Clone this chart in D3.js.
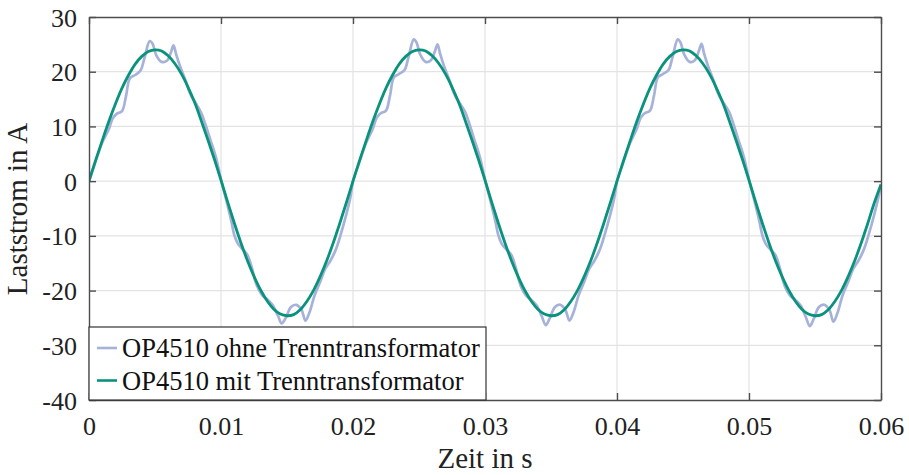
<!DOCTYPE html>
<html><head><meta charset="utf-8">
<script src="https://cdn.jsdelivr.net/npm/d3@7"></script>
<style>body{margin:0;background:#fff}svg{display:block}</style>
</head><body><svg id="c" width="909" height="475"></svg>
<script>
const xTicks = [0,0.01,0.02,0.03,0.04,0.05,0.06];
const xTickLabels = ["0","0.01","0.02","0.03","0.04","0.05","0.06"];
const yTicks = [-40,-30,-20,-10,0,10,20,30];
const yTickLabels = ["-40","-30","-20","-10","0","10","20","30"];
const seriesNames = ["OP4510 ohne Trenntransformator","OP4510 mit Trenntransformator"];

// green series: sampled every 0.0005 s
const greenT = d3.range(0,121).map(i=>+(i*0.0005).toFixed(4));
const greenV = [
 0,3.8,7.4,10.9,14.1,17.0,19.4,21.4,22.8,23.7,24.0,23.8,22.9,21.5,19.6,17.2,14.4,11.1,7.6,4.0,
 0.2,-3.8,-7.6,-11.2,-14.5,-17.4,-19.9,-21.9,-23.4,-24.3,-24.6,-24.4,-23.5,-22.0,-20.0,-17.5,-14.6,-11.3,-7.7,-3.9,
 0,3.8,7.4,10.9,14.1,17.0,19.4,21.4,22.8,23.7,24.0,23.8,22.9,21.5,19.6,17.2,14.4,11.1,7.6,4.0,
 0.2,-3.8,-7.6,-11.2,-14.5,-17.4,-19.9,-21.9,-23.4,-24.3,-24.6,-24.4,-23.5,-22.0,-20.0,-17.5,-14.6,-11.3,-7.7,-3.9,
 0,3.8,7.4,10.9,14.1,17.0,19.4,21.4,22.8,23.7,24.0,23.8,22.9,21.5,19.6,17.2,14.4,11.1,7.6,4.0,
 0.2,-3.8,-7.6,-11.2,-14.5,-17.4,-19.9,-21.9,-23.4,-24.3,-24.6,-24.4,-23.5,-22.0,-20.0,-17.5,-14.6,-11.3,-7.7,-3.9,
 -0.6
];

// blue series: read vertices
const blueT = [
 0,0.0005,0.001,0.0015,0.0018,0.0021,0.0025,0.0028,0.0031,0.0035,0.0039,0.0042,0.0046,0.0048,0.0051,0.0055,0.0059,0.0062,0.0064,0.0066,0.0069,0.0073,0.0077,0.0081,0.0085,0.0088,0.0092,0.0096,
 0.0100,0.0104,0.0108,0.0110,0.0113,0.0117,0.0120,0.0123,0.0127,0.0131,0.0135,0.0139,0.0143,0.0146,0.0149,0.0153,0.0157,0.0161,0.0164,0.0167,0.0171,0.0175,0.0179,0.0183,0.0187,0.0191,0.0195,0.0198,
 0.0200,0.0205,0.0210,0.0215,0.0218,0.0221,0.0225,0.0228,0.0231,0.0235,0.0239,0.0242,0.0246,0.0248,0.0251,0.0255,0.0259,0.0262,0.0264,0.0266,0.0269,0.0273,0.0277,0.0281,0.0285,0.0288,0.0292,0.0296,
 0.0300,0.0304,0.0308,0.0310,0.0313,0.0317,0.0320,0.0323,0.0327,0.0331,0.0335,0.0339,0.0343,0.0346,0.0349,0.0353,0.0357,0.0361,0.0364,0.0367,0.0371,0.0375,0.0379,0.0383,0.0387,0.0391,0.0395,0.0398,
 0.0400,0.0405,0.0410,0.0415,0.0418,0.0421,0.0425,0.0428,0.0431,0.0435,0.0439,0.0442,0.0446,0.0448,0.0451,0.0455,0.0459,0.0462,0.0464,0.0466,0.0469,0.0473,0.0477,0.0481,0.0485,0.0488,0.0492,0.0496,
 0.0500,0.0504,0.0508,0.0510,0.0513,0.0517,0.0520,0.0523,0.0527,0.0531,0.0535,0.0539,0.0543,0.0546,0.0549,0.0553,0.0557,0.0561,0.0564,0.0567,0.0571,0.0575,0.0579,0.0583,0.0587,0.0591,0.0595,0.0598,
 0.0600
];
const blueV = [
 0,3.6,7.0,9.5,11.5,12.3,12.8,15.5,18.8,19.4,20.2,22.5,25.6,25.2,23.0,21.8,22.0,23.5,24.8,23.2,21.0,18.5,15.8,14.2,12.5,10.5,7.5,4.5,
 0.3,-3.5,-7.5,-9.8,-11.5,-12.6,-13.5,-15.5,-19.0,-20.8,-21.6,-22.6,-24.5,-26.0,-25.0,-23.0,-22.6,-23.5,-25.5,-24.0,-20.8,-18.5,-16.0,-14.5,-12.5,-9.5,-6.0,-3.0,
 0,3.6,7.0,9.6,11.6,12.4,12.9,15.6,19.0,19.6,20.3,22.6,25.9,25.4,23.1,21.8,22.1,23.7,25.0,23.3,21.0,18.5,15.8,14.2,12.6,10.6,7.5,4.5,
 0.3,-3.5,-7.5,-9.8,-11.6,-12.7,-13.5,-15.6,-19.1,-20.9,-21.7,-22.7,-24.7,-26.3,-25.1,-23.0,-22.6,-23.6,-25.5,-24.0,-20.8,-18.5,-16.0,-14.5,-12.5,-9.5,-6.0,-3.0,
 0,3.6,7.0,9.6,11.6,12.4,12.9,15.6,19.0,19.6,20.3,22.6,25.9,25.4,23.1,21.8,22.1,23.8,25.1,23.3,21.0,18.5,15.8,14.2,12.6,10.6,7.5,4.5,
 0.3,-3.5,-7.5,-9.8,-11.6,-12.7,-13.5,-15.6,-19.1,-20.9,-21.7,-22.7,-24.8,-26.5,-25.2,-23.0,-22.6,-23.6,-25.7,-24.1,-20.8,-18.5,-16.0,-14.5,-12.5,-9.5,-6.0,-3.0,
 -0.6
];

const FONT = "'Liberation Serif', Tinos, 'Times New Roman', 'Noto Serif', 'DejaVu Serif', serif";
const W=909,H=475, L=89, R=881, T=17, B=400;
const svg=d3.select("#c");
const x=d3.scaleLinear().domain([0,0.06]).range([L,R]);
const y=d3.scaleLinear().domain([-40,30]).range([B,T]);

// grid
const g=svg.append("g");
g.selectAll(".vg").data(xTicks.slice(1,-1)).enter().append("line")
 .attr("x1",d=>x(d)).attr("x2",d=>x(d)).attr("y1",T).attr("y2",B).attr("stroke","#e3e3e3").attr("stroke-width",1.2);
g.selectAll(".hg").data(yTicks.slice(1,-1)).enter().append("line")
 .attr("y1",d=>y(d)).attr("y2",d=>y(d)).attr("x1",L).attr("x2",R).attr("stroke","#e3e3e3").attr("stroke-width",1.2);

// lines
svg.append("clipPath").attr("id","cp").append("rect").attr("x",L).attr("y",T).attr("width",R-L).attr("height",B-T);
const blue=blueT.map((t,i)=>[t,blueV[i]]);
const green=greenT.map((t,i)=>[t,greenV[i]]);
const line=d3.line().x(d=>x(d[0])).y(d=>y(d[1])).curve(d3.curveCatmullRom.alpha(0.5));
svg.append("path").datum(blue).attr("d",line).attr("fill","none").attr("stroke","#a6b2da").attr("stroke-width",2.7).attr("clip-path","url(#cp)");
svg.append("path").datum(green).attr("d",line).attr("fill","none").attr("stroke","#0a937c").attr("stroke-width",2.8).attr("clip-path","url(#cp)");

// axes with box + mirrored ticks
const ax=svg.append("g");
const tickLen=7, axCol="#4d4d4d";
const xb=d3.axisBottom(x).tickValues(xTicks).tickFormat((d,i)=>xTickLabels[i]).tickSizeInner(-tickLen).tickSizeOuter(0);
const yl=d3.axisLeft(y).tickValues(yTicks).tickFormat((d,i)=>yTickLabels[i]).tickSizeInner(-tickLen).tickSizeOuter(0);
const xt=d3.axisTop(x).tickValues(xTicks).tickFormat("").tickSizeInner(-tickLen).tickSizeOuter(0);
const yr=d3.axisRight(y).tickValues(yTicks).tickFormat("").tickSizeInner(-tickLen).tickSizeOuter(0);
[[xb,`translate(0,${B})`,"b"],[yl,`translate(${L},0)`,"l"],[xt,`translate(0,${T})`,"t"],[yr,`translate(${R},0)`,"r"]].forEach(([a,tr,k])=>{
  const gg=ax.append("g").attr("transform",tr).call(a).attr("font-family",FONT);
  gg.select(".domain").attr("stroke",axCol).attr("stroke-width",1.4);
  gg.selectAll(".tick line").attr("stroke",axCol).attr("stroke-width",1.4);
  const tx=gg.selectAll(".tick text").style("font-family",FONT).attr("font-size",26).attr("fill","#222");
  if(k==="b") tx.attr("y",35).attr("dy",0);
  if(k==="l") tx.attr("x",-12).attr("dy",0).attr("y",9);
});

// axis titles
svg.append("text").attr("x",485).attr("y",468).attr("text-anchor","middle").style("font-family",FONT).attr("font-size",29).attr("fill","#222").text("Zeit in s");
svg.append("text").attr("transform","translate(27,209) rotate(-90)").attr("text-anchor","middle").style("font-family",FONT).attr("font-size",29).attr("fill","#222").text("Laststrom in A");

// legend
const lg=svg.append("g");
lg.append("rect").attr("x",89).attr("y",327).attr("width",397).attr("height",73).attr("fill","#fff").attr("stroke","#333").attr("stroke-width",1.2);
const cols=["#a6b2da","#0a937c"];
seriesNames.forEach((n,i)=>{
  const yy=348+i*32.5;
  lg.append("line").attr("x1",97).attr("x2",117).attr("y1",yy).attr("y2",yy).attr("stroke",cols[i]).attr("stroke-width",2.6);
  lg.append("text").attr("x",122).attr("y",yy+9).style("font-family",FONT).attr("font-size",26.5).attr("fill","#111").text(n);
});
</script></body></html>
